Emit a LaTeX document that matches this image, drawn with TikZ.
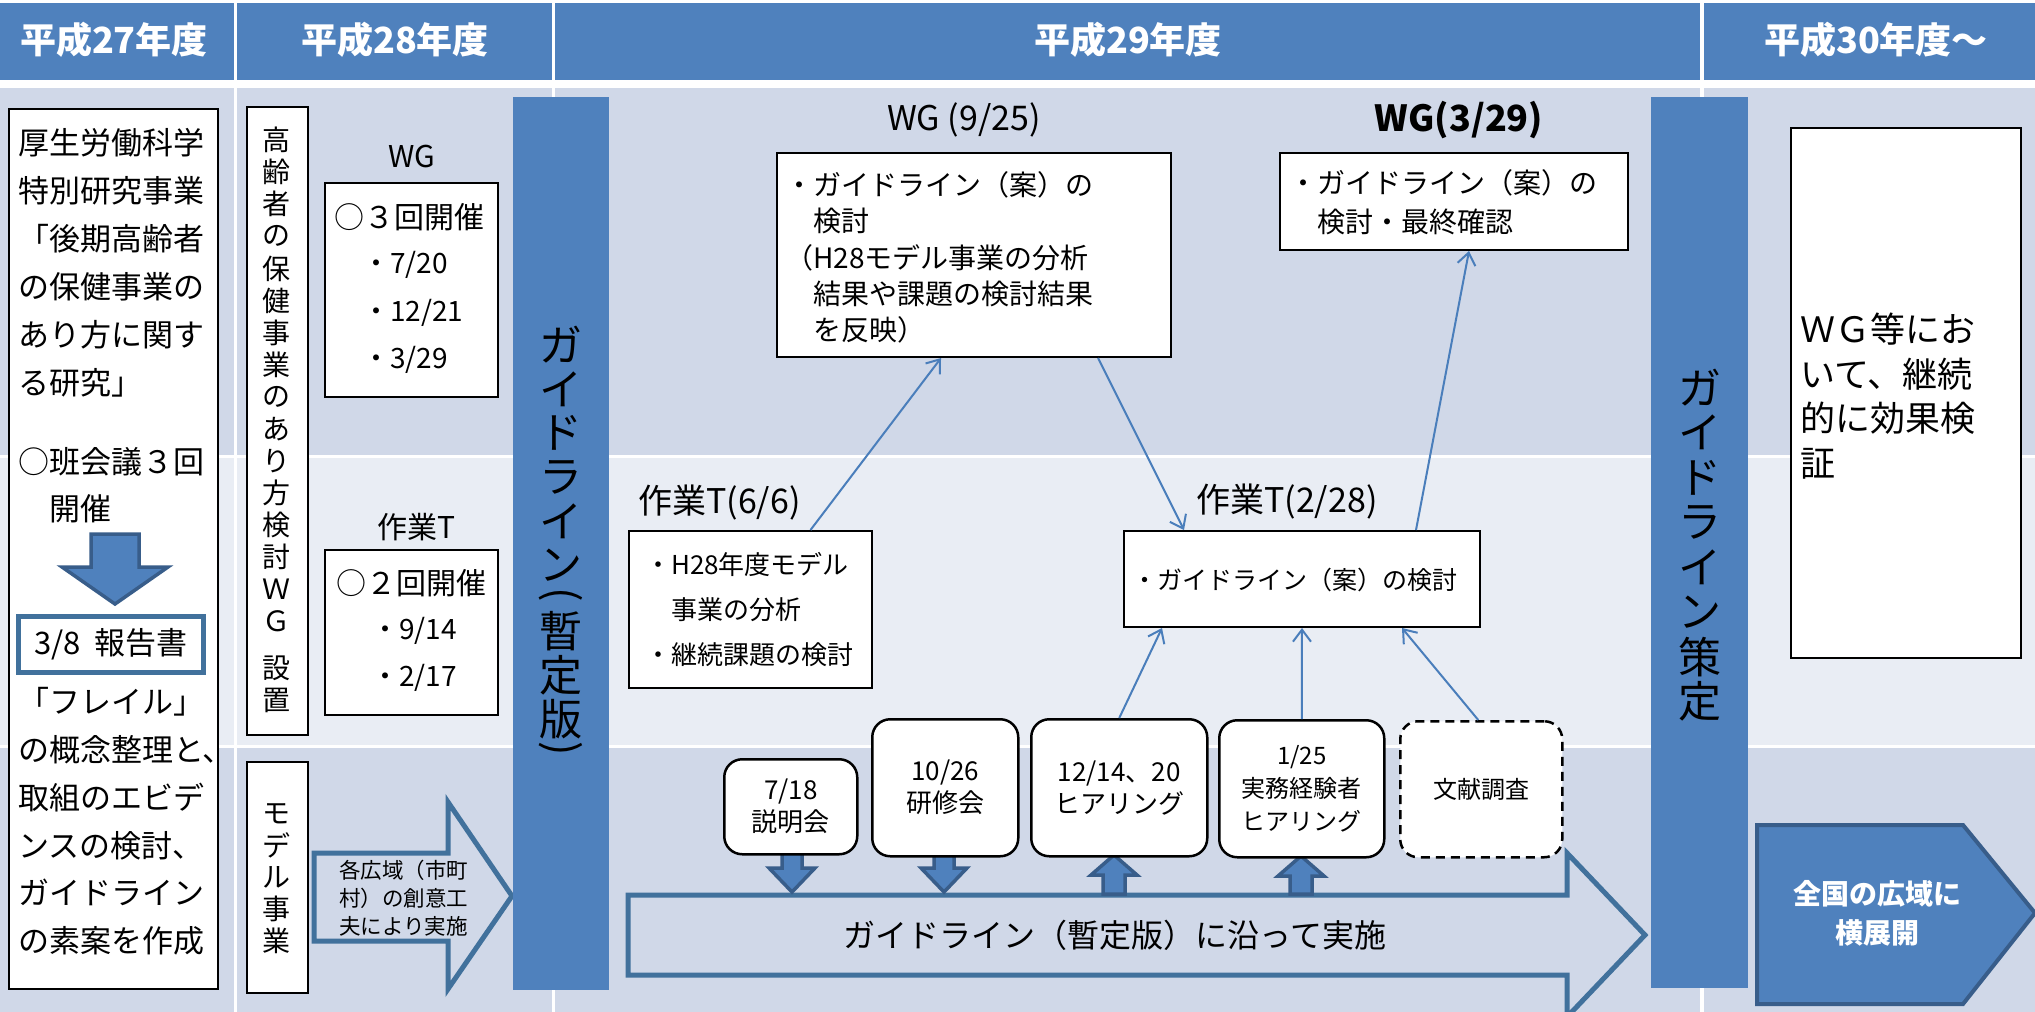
\documentclass[tikz,border=0pt]{standalone}
\usepackage{fontspec}
\setmainfont{Noto Sans CJK JP}
\usetikzlibrary{arrows.meta,calc}
\definecolor{hdr}{HTML}{4F81BD}
\definecolor{rowA}{HTML}{D0D8E8}
\definecolor{rowB}{HTML}{E9EDF4}
\definecolor{bdr}{HTML}{41719C}
\definecolor{bdrdk}{HTML}{385D8A}
\definecolor{thinblue}{HTML}{4A7EBB}
\newcommand{\fsz}[2]{\fontsize{#1}{#2}\selectfont}
\begin{document}
\begin{tikzpicture}[x=1pt,y=-1pt,
  hdrtxt/.style={text=white,inner sep=0,font=\fsz{36}{42}\bfseries},
  wbox/.style={draw=black,line width=2pt,fill=white,inner sep=0,anchor=north west},
  rbox/.style={wbox,rounded corners=18pt,line width=2.5pt,align=center},
  txt/.style={inner sep=0,align=left,anchor=west},
  ctxt/.style={inner sep=0,align=center},
  vch/.style={inner sep=0,font=\fsz{28}{28}},
  vbig/.style={inner sep=0,font=\fsz{43}{43}},
  thinarrow/.style={draw=thinblue,line width=2pt,-{Straight Barb[length=12pt,width=18pt]}},
  blockarrow/.style={fill=hdr,draw=bdrdk,line width=3.5pt,line join=miter},
  bigblock/.style={fill=rowA,draw=bdr,line width=5pt,line join=miter},
  bar/.style={fill=hdr,inner sep=0,anchor=north west}]
\useasboundingbox (0,0) rectangle (2035,1012);
\fill[white] (0,0) rectangle (2035,1012);
% backgrounds
\foreach \xa/\xb in {0/234,237/552,555/1700,1704/2035} {
  \fill[hdr] (\xa,3) rectangle (\xb,80);
  \fill[rowA] (\xa,88) rectangle (\xb,455);
  \fill[rowB] (\xa,458) rectangle (\xb,745);
  \fill[rowA] (\xa,748) rectangle (\xb,1012);
}
\node[hdrtxt] (h27) at (114,40) {平成27年度};
\node[hdrtxt] (h28) at (395,40) {平成28年度};
\node[hdrtxt] (h29) at (1128,40) {平成29年度};
\node[hdrtxt] (h30) at (1876,40) {平成30年度～};

% column 1
\node[wbox,minimum width=209pt,minimum height=880pt] (c1box) at (8,108) {};
\node[txt,font=\fsz{31}{48}] (c1a) at (18,263) {厚生労働科学\\特別研究事業\\「後期高齢者\\の保健事業の\\あり方に関す\\る研究」};
\node[txt,font=\fsz{31}{47}] (c1b) at (18,485.5) {○班会議３回\\　開催};
\draw[blockarrow] (91,534) -- (139,534) -- (139,567) -- (168,567) -- (115,604) -- (62,567) -- (91,567) -- cycle;
\node[draw=bdr,line width=5pt,fill=white,minimum width=185pt,minimum height=56pt,anchor=north west,inner sep=0,font=\fsz{31}{36}] (rep) at (16,614) {3/8\ \ 報告書};
\node[txt,font=\fsz{31}{47.8}] (c1c) at (18,821.5) {「フレイル」\\の概念整理と、\\取組のエビデ\\ンスの検討、\\ガイドライン\\の素案を作成};

% column 2
\node[wbox,minimum width=61pt,minimum height=628pt] (wgv) at (246,106) {};
\foreach \c [count=\i] in {高,齢,者,の,保,健,事,業,の,あ,り,方,検,討,Ｗ,Ｇ}
  \node[vch] (wgv\i) at (276.5,{140+32.1*(\i-1)}) {\c};
\node[vch] (wgv17) at (276.5,668) {設};
\node[vch] (wgv18) at (276.5,700) {置};
\node[ctxt,font=\fsz{30}{36}] (wglab) at (412,157) {WG};
\node[wbox,minimum width=173pt,minimum height=214pt] (wgb) at (324,182) {};
\node[txt,font=\fsz{30}{36}] (wgt1) at (334,217) {○３回開催};
\node[txt,font=\fsz{28}{47.5}] (wgt2) at (362,312.5) {・7/20\\・12/21\\・3/29};
\node[ctxt,font=\fsz{30}{36}] (tlab) at (416,527) {作業T};
\node[wbox,minimum width=173pt,minimum height=165pt] (tb) at (324,549) {};
\node[txt,font=\fsz{30}{36}] (tt1) at (336,583) {○２回開催};
\node[txt,font=\fsz{28}{47}] (tt2) at (371,654.5) {・9/14\\・2/17};
\node[wbox,minimum width=61pt,minimum height=231pt] (mdl) at (246,761) {};
\foreach \c [count=\i] in {モ,デ,ル,事,業}
  \node[vch] (mdl\i) at (276.5,{814+31.75*(\i-1)}) {\c};
\draw[bigblock] (314,853) -- (448,853) -- (448,802) -- (512,896) -- (448,989) -- (448,941) -- (314,941) -- cycle;
\node[txt,font=\fsz{21.5}{28}] (mdlt) at (339,898) {各広域（市町\\村）の創意工\\夫により実施};

% bar 1
\node[bar,minimum width=96pt,minimum height=893pt] (bar1) at (513,97) {};
\foreach \c/\y [count=\i] in {ガ/345,イ/389,ド/433,ラ/477,イ/521,ン/565,{\rotatebox[origin=c]{-90}{(}}/598,暫/631,定/675,版/719,{\rotatebox[origin=c]{-90}{)}}/752}
  \node[vbig] (gv\i) at (561,\y) {\c};

% column 3 upper
\node[ctxt,font=\fsz{34}{40}] (wg925lab) at (964,120) {WG (9/25)};
\node[wbox,minimum width=394pt,minimum height=204pt] (wg925) at (776,152) {};
\node[txt,font=\fsz{28}{36.25}] (wg925t) at (785,257.5) {・ガイドライン（案）の\\　検討\\（H28モデル事業の分析\\　結果や課題の検討結果\\　を反映）};
\node[ctxt,font=\fsz{36}{42}\bfseries] (wg329lab) at (1459,120) {WG(3/29)};
\node[wbox,minimum width=348pt,minimum height=97pt] (wg329) at (1279,152) {};
\node[txt,font=\fsz{28}{39}] (wg329t) at (1289,202.5) {・ガイドライン（案）の\\　検討・最終確認};

% column 3 middle
\node[txt,font=\fsz{34}{40}] (t66lab) at (638,503) {作業T(6/6)};
\node[wbox,minimum width=243pt,minimum height=157pt] (t66) at (628,530) {};
\node[txt,font=\fsz{26}{45}] (t66t) at (645,610) {・H28年度モデル\\　事業の分析\\・継続課題の検討};
\node[txt,font=\fsz{34}{40}] (t228lab) at (1196,502) {作業T(2/28)};
\node[wbox,minimum width=356pt,minimum height=96pt] (t228) at (1123,530) {};
\node[txt,font=\fsz{25}{30}] (t228t) at (1132,580) {・ガイドライン（案）の検討};

% column 3 lower
\draw[bigblock] (628,895) -- (1567,895) -- (1567,853) -- (1645,935) -- (1567,1017) -- (1567,975) -- (628,975) -- cycle;
\node[ctxt,font=\fsz{32}{38}] (impl) at (1115,935) {ガイドライン（暫定版）に沿って実施};
\draw[blockarrow] (782,853) -- (802,853) -- (802,868) -- (815,868) -- (792,892) -- (769,868) -- (782,868) -- cycle;
\draw[blockarrow] (934,855) -- (954,855) -- (954,868) -- (967,868) -- (944,892) -- (921,868) -- (934,868) -- cycle;
\draw[blockarrow] (1114,855) -- (1137,875) -- (1125,875) -- (1125,894) -- (1103,894) -- (1103,875) -- (1091,875) -- cycle;
\draw[blockarrow] (1301,856) -- (1324,876) -- (1312,876) -- (1312,894) -- (1290,894) -- (1290,876) -- (1278,876) -- cycle;
\node[rbox,minimum width=133pt,minimum height=95pt,font=\fsz{26}{32}] (ba) at (723,758) {7/18\\説明会};
\node[rbox,minimum width=146pt,minimum height=137pt,font=\fsz{26}{32}] (bb) at (871,718) {10/26\\研修会};
\node[rbox,minimum width=176pt,minimum height=137pt,font=\fsz{26}{32}] (bc) at (1030,718) {12/14、20\\ヒアリング};
\node[rbox,minimum width=165pt,minimum height=137pt,font=\fsz{24}{33}] (bd) at (1218,719) {1/25\\実務経験者\\ヒアリング};
\node[rbox,dashed,dash pattern=on 9pt off 6pt,minimum width=162pt,minimum height=136pt,font=\fsz{24}{30}] (be) at (1399,720) {文献調査};

% thin arrows
\draw[thinarrow] ([xshift=60pt]t66.north) -- ([xshift=-33pt]wg925.south);
\draw[thinarrow] ([xshift=124pt]wg925.south) -- ([xshift=-118pt]t228.north);
\draw[thinarrow] ([xshift=114pt]t228.north) -- ([xshift=15pt]wg329.south);
\draw[thinarrow] (bc.north) -- ([xshift=-140pt]t228.south);
\draw[thinarrow] (bd.north) -- (t228.south);
\draw[thinarrow] ([xshift=-3pt]be.north) -- ([xshift=100pt]t228.south);

% bar 2
\node[bar,minimum width=97pt,minimum height=891pt] (bar2) at (1651,97) {};
\foreach \c [count=\i] in {ガ,イ,ド,ラ,イ,ン,策,定}
  \node[vbig] (sv\i) at (1700,{388+44.8*(\i-1)}) {\c};

% column 4
\node[wbox,minimum width=230pt,minimum height=530pt] (c4box) at (1790,127) {};
\node[txt,font=\fsz{35}{44.7}] (c4t) at (1800,396) {ＷＧ等にお\\いて、継続\\的に効果検\\証};
\draw[fill=hdr,draw=bdrdk,line width=4pt,line join=miter] (1757,825) -- (1963,825) -- (2035,913) -- (1963,1004) -- (1757,1004) -- cycle;
\node[ctxt,text=white,font=\fsz{28}{39}\bfseries] (yoko) at (1877,913.5) {全国の広域に\\横展開};
\end{tikzpicture}
\end{document}
